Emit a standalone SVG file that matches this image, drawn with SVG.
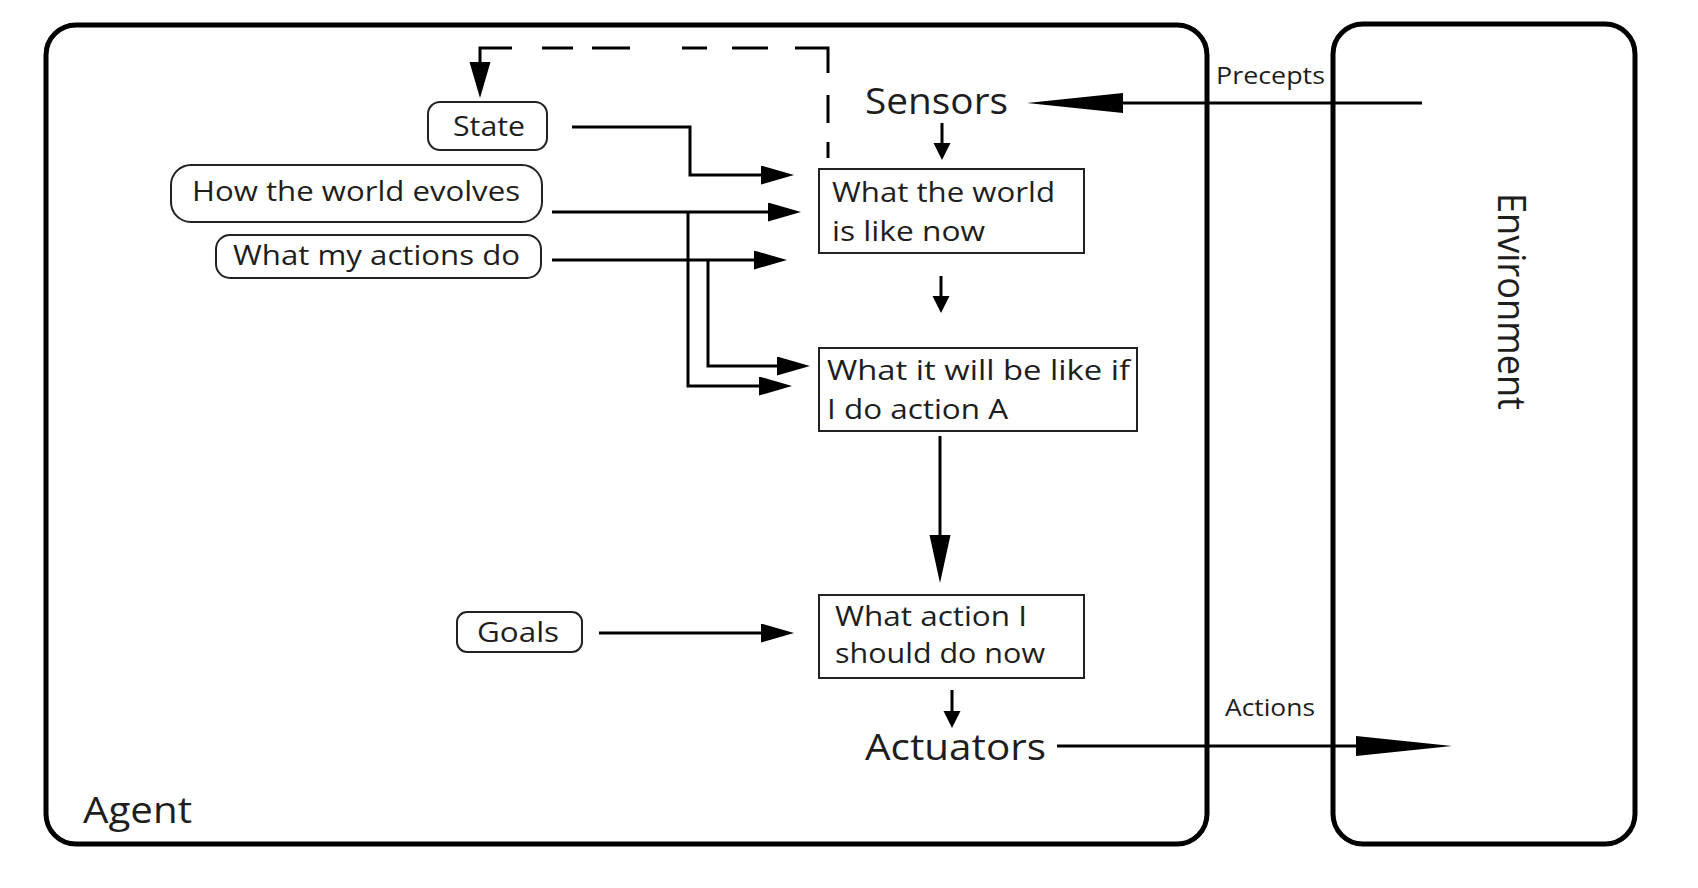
<svg xmlns="http://www.w3.org/2000/svg" width="1698" height="888" viewBox="0 0 1698 888">
<defs>
<style>
.frame{fill:none;stroke:#000;stroke-width:5}
.rbox{fill:#fff;stroke:#222;stroke-width:2}
.box{fill:#fff;stroke:#222;stroke-width:2}
.ln{fill:none;stroke:#000;stroke-width:3}
.t{font-family:"Open Sans","Liberation Sans",sans-serif;fill:#1e1e1e}
.n{font-size:28px}
.big{font-size:36px}
.sm{font-size:24px}
</style>
<marker id="ah" markerUnits="userSpaceOnUse" markerWidth="34" markerHeight="20" refX="25" refY="9.5" orient="auto"><path d="M0,0 L33,9.5 L0,19 z" fill="#000"/></marker>
<marker id="sm" markerUnits="userSpaceOnUse" markerWidth="18" markerHeight="18" refX="12" refY="8.5" orient="auto"><path d="M0,0 L17,8.5 L0,17 z" fill="#000"/></marker>
<marker id="lg" markerUnits="userSpaceOnUse" markerWidth="49" markerHeight="22" refX="38" refY="10.5" orient="auto"><path d="M0,0 L48,10.5 L0,21 z" fill="#000"/></marker>
<marker id="dh" markerUnits="userSpaceOnUse" markerWidth="37" markerHeight="22" refX="28" refY="10.5" orient="auto"><path d="M0,0 L36,10.5 L0,21 z" fill="#000"/></marker>
<marker id="pa" markerUnits="userSpaceOnUse" markerWidth="97" markerHeight="21" refX="76" refY="10" orient="auto"><path d="M0,0 L96,10 L0,20 z" fill="#000"/></marker>
</defs>
<rect width="1698" height="888" fill="#fff"/>

<g id="agent">
<rect class="frame" x="46" y="25" width="1161" height="819" rx="30"/>
<text class="t" x="83" y="823" font-size="37" textLength="109" lengthAdjust="spacingAndGlyphs">Agent</text>
</g>
<g id="environment">
<rect class="frame" x="1333" y="24" width="302" height="820" rx="30"/>
<text class="t" transform="translate(1498,193) rotate(90)" font-size="38" textLength="217" lengthAdjust="spacingAndGlyphs">Environment</text>
</g>

<g id="connectors">
<path class="ln" d="M512,48 H480 V90" marker-end="url(#dh)"/>
<path class="ln" d="M542,48 H573 M592,48 H630 M682,48 H707 M732,48 H768 M795,48 H828 V73 M828,95 V123 M828,142 V158"/>
<path class="ln" d="M572,127 H690 V175 H786" marker-end="url(#ah)"/>
<path class="ln" d="M552,212 H793" marker-end="url(#ah)"/>
<path class="ln" d="M688,212 V386 H784" marker-end="url(#ah)"/>
<path class="ln" d="M552,260 H779" marker-end="url(#ah)"/>
<path class="ln" d="M708,260 V366 H802" marker-end="url(#ah)"/>
<path class="ln" d="M599,633 H786" marker-end="url(#ah)"/>
<path class="ln" d="M942,123 V155" marker-end="url(#sm)"/>
<path class="ln" d="M941,276 V308" marker-end="url(#sm)"/>
<path class="ln" d="M940,436 V573" marker-end="url(#lg)"/>
<path class="ln" d="M952,690 V723" marker-end="url(#sm)"/>
<path class="ln" d="M1422,103 H1047" marker-end="url(#pa)"/>
<path class="ln" d="M1057,746 H1432" marker-end="url(#pa)"/>
<text class="t sm" x="1216" y="84" textLength="109" lengthAdjust="spacingAndGlyphs">Precepts</text>
<text class="t sm" x="1225" y="716" textLength="90" lengthAdjust="spacingAndGlyphs">Actions</text>
</g>

<g id="state">
<rect class="rbox" x="428" y="102" width="119" height="48" rx="12"/>
<text class="t n" x="453" y="136" textLength="72" lengthAdjust="spacingAndGlyphs">State</text>
</g>
<g id="world-evolves">
<rect class="rbox" x="171" y="165" width="371" height="57" rx="20"/>
<text class="t n" x="192" y="201" textLength="328" lengthAdjust="spacingAndGlyphs">How the world evolves</text>
</g>
<g id="actions-do">
<rect class="rbox" x="216" y="235" width="325" height="43" rx="14"/>
<text class="t n" x="233" y="265" textLength="287" lengthAdjust="spacingAndGlyphs">What my actions do</text>
</g>
<g id="goals">
<rect class="rbox" x="457" y="612" width="125" height="40" rx="10"/>
<text class="t n" x="477" y="642" textLength="82" lengthAdjust="spacingAndGlyphs">Goals</text>
</g>
<g id="sensors">
<text class="t big" x="865" y="114" textLength="143" lengthAdjust="spacingAndGlyphs">Sensors</text>
</g>
<g id="world-now">
<rect class="box" x="819" y="169" width="265" height="84"/>
<text class="t n" x="832" y="202" textLength="223" lengthAdjust="spacingAndGlyphs">What the world</text>
<text class="t n" x="832" y="241" textLength="153" lengthAdjust="spacingAndGlyphs">is like now</text>
</g>
<g id="world-if">
<rect class="box" x="819" y="348" width="318" height="83"/>
<text class="t n" x="827" y="380" textLength="303" lengthAdjust="spacingAndGlyphs">What it will be like if</text>
<text class="t n" x="827" y="419" textLength="181" lengthAdjust="spacingAndGlyphs">I do action A</text>
</g>
<g id="action-now">
<rect class="box" x="819" y="595" width="265" height="83"/>
<text class="t n" x="835" y="626" textLength="192" lengthAdjust="spacingAndGlyphs">What action I</text>
<text class="t n" x="835" y="663" textLength="210" lengthAdjust="spacingAndGlyphs">should do now</text>
</g>
<g id="actuators">
<text class="t big" x="865" y="760" textLength="181" lengthAdjust="spacingAndGlyphs">Actuators</text>
</g>
</svg>
